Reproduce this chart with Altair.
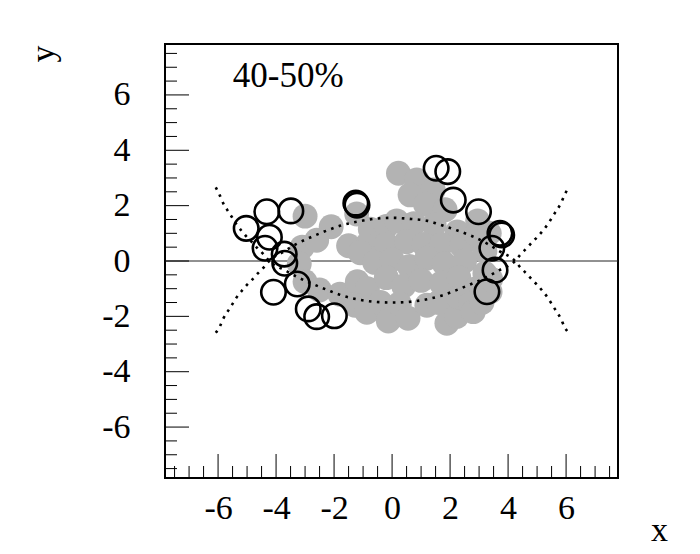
import altair as alt
import pandas as pd

# ---------------- data ----------------
gray_x = [0.22, 0.85, 0.62, 1.42, 1.15, 1.83,
          -3.0, -2.1, -1.22, -0.75, -0.2, 0.16, 0.75, 1.45, 2.25, 2.95,
          -3.1, -2.6, -1.5, -0.9, -0.2, 0.5, 1.1, 1.7, 2.4, 3.2, 2.9,
          -3.2, -1.1, -0.6, 0.0, 0.6, 1.2, 1.8, 2.5, 3.2,
          -3.0, -2.5, -1.8, -1.2, -0.85, -0.2, 0.4, 1.0, 1.7, 2.3, 2.9, 3.38,
          -1.28, -0.87, -0.4, -0.13, 0.25, 0.55, 1.2, 1.89, 1.6, 2.23, 2.3, 2.7, 2.8,
          3.35, 3.4, 3.1]
gray_y = [3.17, 2.93, 2.39, 2.57, 2.05, 1.85,
          1.62, 1.24, 1.70, 1.15, 1.25, 1.45, 1.35, 1.3, 1.05, 1.45,
          0.5, 0.75, 0.55, 0.55, 0.6, 0.7, 0.6, 0.6, 0.55, 0.35, 0.95,
          -0.1, 0.3, -0.05, 0.05, -0.2, 0.1, -0.1, 0.0, -0.45,
          -0.75, -1.05, -1.2, -0.75, -1.0, -0.6, -0.9, -0.7, -0.8, -0.6, -1.0, -1.11,
          -1.6, -1.85, -1.5, -2.17, -1.55, -2.07, -1.6, -2.25, -1.5, -2.0, -1.3, -1.55, -1.83,
          1.0, -0.65, -1.5]

open_x = [-4.32, -3.49, -5.03, -4.23, -4.38, -3.72, -3.70, -3.27, -4.09, -2.89, -2.60, -1.99,
          -1.25, -1.21, 1.52, 1.92, 2.11, 2.98, 3.72, 3.78, 3.44, 3.55, 3.27]
open_y = [1.78, 1.81, 1.18, 0.86, 0.46, 0.25, -0.08, -0.83, -1.13, -1.73, -2.01, -1.98,
          2.09, 2.02, 3.35, 3.23, 2.20, 1.78, 1.00, 0.94, 0.46, -0.33, -1.11]

curve_x = [-6.08, -5.94, -5.82, -5.68, -5.53, -5.39, -5.2, -5.02, -4.84, -4.64, -4.44, -4.24,
           -3.7, -3.29, -2.8, -2.2, -1.77, -1.22, -0.64, 0.0, 0.64, 1.22, 1.77, 2.2, 2.8, 3.29,
           3.7, 4.24, 4.44, 4.64, 4.84, 5.02, 5.2, 5.39, 5.53, 5.68, 5.82, 5.94, 6.08]
curve_a_y = [2.66, 2.37, 2.08, 1.84, 1.6, 1.36, 1.1, 0.88, 0.69, 0.46, 0.25, 0.0,
             -0.33, -0.57, -0.8, -1.06, -1.23, -1.38, -1.47, -1.5, -1.47, -1.38, -1.23, -1.06, -0.8, -0.57,
             -0.33, 0.0, 0.25, 0.46, 0.69, 0.88, 1.1, 1.36, 1.6, 1.84, 2.08, 2.37, 2.66]
curve_b_y = [-2.59, -2.37, -2.08, -1.84, -1.6, -1.36, -1.1, -0.88, -0.69, -0.46, -0.25, 0.0,
             0.36, 0.62, 0.86, 1.12, 1.28, 1.42, 1.52, 1.56, 1.52, 1.45, 1.27, 1.12, 0.88, 0.62,
             0.36, 0.0, -0.25, -0.46, -0.69, -0.88, -1.1, -1.36, -1.6, -1.84, -2.08, -2.37, -2.59]

major_ticks = [-6, -4, -2, 0, 2, 4, 6]
minor_ticks = [-7.5, -7, -6.5, -5.5, -5, -4.5, -3.5, -3, -2.5, -1.5, -1, -0.5,
               0.5, 1, 1.5, 2.5, 3, 3.5, 4.5, 5, 5.5, 6.5, 7, 7.5]
label_text = ["40-50%"]
label_x = [-5.49]
label_y = [6.30]

# ---------------- chart ----------------
W, H = 453, 434
FONT = "Liberation Serif"
xdom = [-7.83, 7.79]
ydom = [-7.84, 7.84]

xs = alt.Scale(domain=xdom, nice=False, zero=False)
ys = alt.Scale(domain=ydom, nice=False, zero=False)

LABEL_EXPR = "datum.value < 0 ? '-' + abs(datum.value) : '' + datum.value"

x_axis = alt.Axis(values=major_ticks, title="x", grid=False, domain=False, ticks=False,
                  tickSize=0, labelFont=FONT, labelFontSize=34, labelColor="black",
                  labelPadding=40, labelBaseline="alphabetic", labelFlush=False,
                  labelExpr=LABEL_EXPR,
                  titleFont=FONT, titleFontSize=34, titleFontWeight="normal", titleColor="black",
                  titleX=494, titleY=62, titleAlign="center", titleBaseline="alphabetic",
                  titleAngle=0)
y_axis = alt.Axis(values=major_ticks, title="y", grid=False, domain=False, ticks=False,
                  tickSize=0, labelFont=FONT, labelFontSize=34, labelColor="black",
                  labelPadding=35, labelAlign="right", labelBaseline="middle", labelFlush=False,
                  labelExpr=LABEL_EXPR,
                  titleFont=FONT, titleFontSize=34, titleFontWeight="normal", titleColor="black",
                  titleX=-112, titleY=1, titleAngle=-90, titleAlign="right",
                  titleBaseline="alphabetic")

zero_df = pd.DataFrame({"y": [0.0]})
zero_line = alt.Chart(zero_df).mark_rule(color="#222222", strokeWidth=1).encode(
    y=alt.Y("y:Q", scale=ys, axis=y_axis),
    x=alt.value(0), x2=alt.value(W))

gray_df = pd.DataFrame({"x": gray_x, "y": gray_y})
gray = alt.Chart(gray_df).mark_point(shape="circle", filled=True, size=620, opacity=1,
                                      color="#b3b3b3", strokeWidth=0).encode(
    x=alt.X("x:Q", scale=xs, axis=x_axis),
    y=alt.Y("y:Q", scale=ys))

curve_df = pd.DataFrame({"x": curve_x * 2,
                         "y": curve_a_y + curve_b_y,
                         "c": ["a"] * len(curve_x) + ["b"] * len(curve_x)})
curves = alt.Chart(curve_df).mark_line(color="black", strokeWidth=2.6, strokeDash=[2.6, 5.4],
                                        interpolate="monotone").encode(
    x=alt.X("x:Q", scale=xs),
    y=alt.Y("y:Q", scale=ys),
    detail="c:N")

open_df = pd.DataFrame({"x": open_x, "y": open_y})
opens = alt.Chart(open_df).mark_point(shape="circle", filled=False, size=600, opacity=1,
                                       color="black", strokeWidth=2.6).encode(
    x=alt.X("x:Q", scale=xs),
    y=alt.Y("y:Q", scale=ys))

xmaj_df = pd.DataFrame({"t": major_ticks})
xmin_df = pd.DataFrame({"t": minor_ticks})
xmaj = alt.Chart(xmaj_df).mark_rule(color="black", strokeWidth=1).encode(
    x=alt.X("t:Q", scale=xs), y=alt.value(H), y2=alt.value(H - 24))
xmin = alt.Chart(xmin_df).mark_rule(color="black", strokeWidth=1).encode(
    x=alt.X("t:Q", scale=xs), y=alt.value(H), y2=alt.value(H - 12))
ymaj = alt.Chart(xmaj_df).mark_rule(color="black", strokeWidth=1).encode(
    y=alt.Y("t:Q", scale=ys), x=alt.value(0), x2=alt.value(24))
ymin = alt.Chart(xmin_df).mark_rule(color="black", strokeWidth=1).encode(
    y=alt.Y("t:Q", scale=ys), x=alt.value(0), x2=alt.value(12))

text_df = pd.DataFrame({"x": label_x, "y": label_y, "t": label_text})
txt = alt.Chart(text_df).mark_text(font=FONT, fontSize=35, align="left",
                                   baseline="alphabetic", color="black").encode(
    x=alt.X("x:Q", scale=xs), y=alt.Y("y:Q", scale=ys), text="t:N")

chart = alt.layer(zero_line, gray, curves, opens, xmaj, xmin, ymaj, ymin, txt).properties(
    width=W, height=H,
    autosize=alt.AutoSizeParams(type="none"),
    padding={"left": 157, "top": 36, "right": 70, "bottom": 70},
    background="white",
).configure_view(stroke="black", strokeWidth=2)

chart.save("out.html", embed_options={"renderer": "svg", "actions": False})
